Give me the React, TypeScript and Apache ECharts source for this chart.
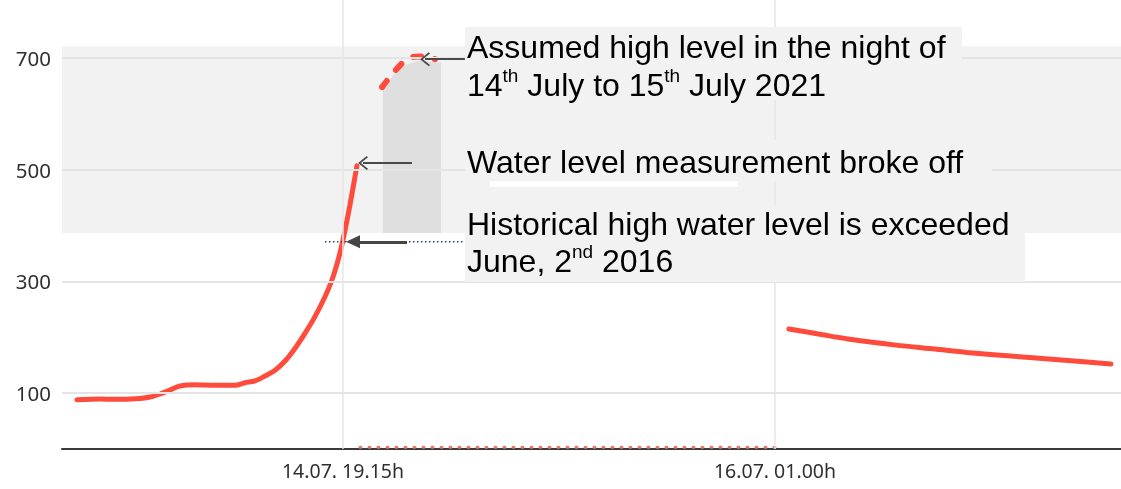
import React, { useEffect, useRef } from 'react';
import * as echarts from 'echarts';

// hours since 14.07.2021 00:00, water level in cm
const risingSeg: [number, number][] = [
  [0.93, 88], [2.52, 89.5], [3.41, 89], [5.27, 90.5], [5.96, 93], [6.65, 98.5],
  [7.34, 105.6], [8.02, 112.8], [9.06, 115], [10.43, 114], [11.81, 114], [12.5, 118.7],
  [13.19, 122], [13.88, 130.7], [14.57, 141], [15.26, 157.6], [15.94, 180], [16.63, 207],
  [17.32, 237], [18.01, 272.7], [18.49, 302.6], [18.91, 338], [19.25, 374], [19.73, 437],
  [20.21, 507],
];
const assumedSeg: [number, number][] = [
  [21.94, 648], [23.18, 687], [23.86, 700], [24.55, 703], [25.59, 698],
];
const assumedArea: [number, number][] = [
  [22.0, 646], [23.18, 684], [24.55, 696], [26.0, 691],
];
const fallingSeg: [number, number][] = [
  [49.96, 215], [52.0, 206], [54.03, 197], [57.33, 186], [60.0, 179],
  [62.22, 173], [65.46, 166], [68.5, 160], [72.14, 152],
];
const missingSeg: [number, number][] = [[20.42, 3], [49.0, 3]];
const histLevel = 371;
const histSeg: [number, number][] = [[18.01, histLevel], [27.65, histLevel]];

const xTickHours = [19.25, 49];
const xTickLabels = ['14.07. 19.15h', '16.07. 01.00h'];
const yTickValues = [100, 300, 500, 700];
const bandRange = [387, 721];

export default function App() {
  const ref = useRef<HTMLDivElement>(null);
  useEffect(() => {
    document.body.style.margin = '0';
    const chart = echarts.init(ref.current!, null, { renderer: 'svg' });
    const red = '#ff4b3b';
    const chevron = 'path://M0,11 L10,0 L20,11 L18.2,12.6 L10,3.6 L1.8,12.6 Z';
    const font = 'Liberation Sans, Arial, sans-serif';
    const txt = { fontSize: 32, fontFamily: font, lineHeight: 38, fill: '#000' };
    const sup = { fontSize: 19, fontFamily: font, lineHeight: 29, verticalAlign: 'top', fill: '#000' };
    const txt3 = { ...txt, lineHeight: 37 };
    const sup3 = { ...sup, lineHeight: 28 };
    const option: any = {
      animation: false,
      grid: { left: 62, right: 0, top: 0, bottom: 40 },
      xAxis: {
        type: 'value', min: -0.1, max: 72.83,
        splitLine: { show: false },
        axisTick: { show: false },
        axisLine: { show: true, onZero: false, lineStyle: { color: '#3a3a3a', width: 2 } },
        axisLabel: {
          customValues: xTickHours,
          formatter: (v: number) => {
            const i = xTickHours.findIndex((h) => Math.abs(h - v) < 1e-6);
            return i >= 0 ? xTickLabels[i] : '';
          },
          fontSize: 19.5, color: '#2f2f2f', fontFamily: 'Noto Sans', margin: 11,
        },
      },
      yAxis: {
        type: 'value', min: 0, max: 804, interval: 100,
        splitLine: { show: false }, axisLine: { show: false }, axisTick: { show: false },
        axisLabel: {
          formatter: (v: number) => (yTickValues.includes(v) ? String(v) : ''),
          fontSize: 20.5, color: '#2f2f2f', fontFamily: 'Noto Sans', margin: 11,
        },
      },
      series: [
        {
          name: 'band', type: 'line', data: [], z: 1, silent: true,
          markArea: { silent: true, itemStyle: { color: '#f2f2f2' }, data: [[{ yAxis: bandRange[0] }, { yAxis: bandRange[1] }]] },
        },
        {
          name: 'grid', type: 'line', data: [], z: 2, silent: true,
          markLine: {
            silent: true, symbol: 'none', label: { show: false }, emphasis: { disabled: true },
            lineStyle: { color: '#e4e4e4', width: 2, type: 'solid' },
            data: [
              ...yTickValues.map((v) => ({ yAxis: v })),
              ...xTickHours.map((h) => ({ xAxis: h, lineStyle: { color: '#e6e6e6', width: 1.5, type: 'solid' } })),
            ],
          },
        },
        {
          name: 'assumedArea', type: 'line', data: assumedArea, z: 3, symbol: 'none', silent: true,
          lineStyle: { opacity: 0 }, areaStyle: { color: '#dfdfdf', opacity: 1, origin: bandRange[0] },
        },
        {
          name: 'rising', type: 'line', data: risingSeg, z: 4, symbol: 'none', smooth: 0.3,
          lineStyle: { color: red, width: 5, cap: 'round' },
        },
        {
          name: 'assumed', type: 'line', data: assumedSeg, z: 4, symbol: 'none', smooth: 0.4,
          lineStyle: { color: red, width: 6, type: [8, 14], cap: 'round' },
        },
        {
          name: 'falling', type: 'line', data: fallingSeg, z: 4, symbol: 'none', smooth: 0.3,
          lineStyle: { color: red, width: 5, cap: 'round' },
        },
        {
          name: 'missing', type: 'line', data: missingSeg, z: 4, symbol: 'none',
          lineStyle: { color: '#e9776b', width: 3, type: [1, 8], cap: 'round' },
        },
        {
          name: 'historical', type: 'line', data: histSeg, z: 4, symbol: 'none',
          lineStyle: { color: '#2e4470', width: 1.5, type: [1.5, 2.5] },
        },
        {
          name: 'arrows', type: 'line', data: [], z: 6, silent: true,
          markLine: {
            silent: true, label: { show: false }, emphasis: { disabled: true },
            lineStyle: { color: '#4a4a4a', width: 2, type: 'solid' },
            data: [
              [
                { coord: [27.65, 698], symbol: 'none' },
                { coord: [24.9, 698], symbol: chevron, symbolSize: [14, 10] },
              ],
              [
                { coord: [24.0, 512], symbol: 'none' },
                { coord: [20.63, 512], symbol: chevron, symbolSize: [14, 10] },
              ],
              [
                { coord: [23.66, histLevel], symbol: 'none', lineStyle: { width: 3, color: '#454545' } },
                { coord: [19.94, histLevel], symbol: 'triangle', symbolSize: [13, 14], lineStyle: { width: 3, color: '#454545' } },
              ],
            ],
          },
        },
      ],
      graphic: [
        { type: 'rect', z: 100, shape: { x: 465, y: 27, width: 497, height: 73 }, style: { fill: '#f2f2f2' }, silent: true },
        { type: 'rect', z: 100, shape: { x: 465, y: 140, width: 527, height: 41 }, style: { fill: '#f2f2f2' }, silent: true },
        { type: 'rect', z: 100, shape: { x: 490, y: 181, width: 248, height: 6 }, style: { fill: '#ffffff' }, silent: true },
        { type: 'rect', z: 100, shape: { x: 465, y: 205, width: 560, height: 77 }, style: { fill: '#f2f2f2' }, silent: true },
        {
          type: 'text', z: 101, x: 467, y: 28, silent: true,
          style: {
            text: '{a|Assumed high level in the night of}\n{a|14}{s|th}{a| July to 15}{s|th}{a| July 2021}',
            rich: { a: txt, s: sup }, align: 'left', verticalAlign: 'top',
          },
        },
        {
          type: 'text', z: 101, x: 467, y: 143, silent: true,
          style: { text: '{a|Water level measurement broke off}', rich: { a: txt }, align: 'left', verticalAlign: 'top' },
        },
        {
          type: 'text', z: 101, x: 467, y: 205, silent: true,
          style: {
            text: '{a|Historical high water level is exceeded}\n{a|June, 2}{s|nd}{a| 2016}',
            rich: { a: txt3, s: sup3 }, align: 'left', verticalAlign: 'top',
          },
        },
      ],
    };
    chart.setOption(option);
    return () => chart.dispose();
  }, []);
  return <div ref={ref} style={{ position: 'fixed', left: 0, top: 0, width: 1121, height: 489 }} />;
}
